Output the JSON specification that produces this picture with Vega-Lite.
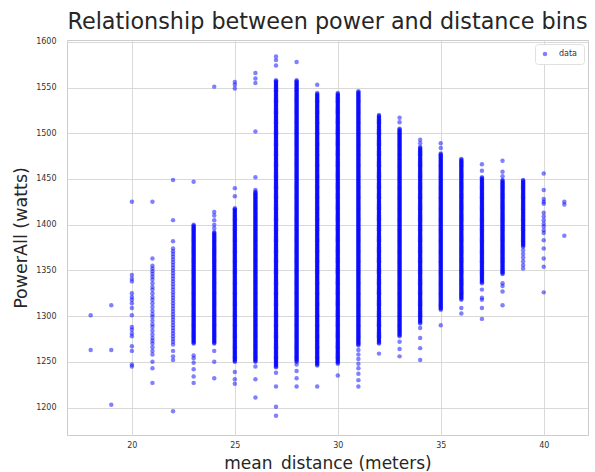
{
  "$schema": "https://vega.github.io/schema/vega-lite/v6.json",
  "width": 521,
  "height": 395,
  "autosize": "none",
  "padding": {"left": 67, "top": 40, "right": 7, "bottom": 37},
  "background": "white",
  "title": {"text": "Relationship between power and distance bins", "fontSize": 22.3, "font": "DejaVu Sans", "fontWeight": "normal", "color": "#262626", "anchor": "middle", "offset": 5},
  "config": {"view": {"stroke": "#cccccc", "strokeWidth": 1}},
  "data": {"values": [
    {"distance": 18, "power": [1301, 1263]},
    {"distance": 19, "power": [1312, 1263, 1203]},
    {"distance": 20, "power": [1425, 1345, 1341, 1338, 1325, 1321, 1318, 1314, 1309, 1301, 1288, 1285, 1281, 1278, 1267, 1262, 1247, 1245]},
    {"distance": 21, "power": [1425, 1363, 1355, 1352, 1349, 1346, 1343, 1340, 1336, 1332, 1329, 1325, 1321, 1318, 1314, 1310, 1306, 1302, 1299, 1295, 1291, 1288, 1284, 1280, 1276, 1273, 1270, 1266, 1262, 1258, 1250, 1243, 1227]},
    {"distance": 22, "power": [1449, 1405, 1382, 1374, 1371, 1368, 1365, 1362, 1359, 1356, 1353, 1350, 1347, 1344, 1341, 1338, 1335, 1332, 1329, 1326, 1323, 1320, 1317, 1314, 1311, 1308, 1305, 1302, 1299, 1296, 1293, 1290, 1287, 1284, 1281, 1278, 1275, 1272, 1269, 1262, 1256, 1252, 1196]},
    {"distance": 23, "power": [1447, 1257, 1254, 1249, 1242, 1234, 1227,
      1270,1271,1272,1273,1274,1275,1276,1277,1278,1279,1280,1281,1282,1283,1284,1285,1286,1287,1288,1289,1290,1291,1292,1293,1294,1295,1296,1297,1298,1299,1300,1301,1302,1303,1304,1305,1306,1307,1308,1309,1310,1311,1312,1313,1314,1315,1316,1317,1318,1319,1320,1321,1322,1323,1324,1325,1326,1327,1328,1329,1330,1331,1332,1333,1334,1335,1336,1337,1338,1339,1340,1341,1342,1343,1344,1345,1346,1347,1348,1349,1350,1351,1352,1353,1354,1355,1356,1357,1358,1359,1360,1361,1362,1363,1364,1365,1366,1367,1368,1369,1370,1371,1372,1373,1374,1375,1376,1377,1378,1379,1380,1381,1382,1383,1384,1385,1386,1387,1388,1389,1390,1391,1392,1393,1394,1395,1396,1397,1398,1399,1400]},
    {"distance": 24, "power": [1551, 1414, 1410, 1405, 1400, 1396, 1262, 1250, 1232,
      1270,1271,1272,1273,1274,1275,1276,1277,1278,1279,1280,1281,1282,1283,1284,1285,1286,1287,1288,1289,1290,1291,1292,1293,1294,1295,1296,1297,1298,1299,1300,1301,1302,1303,1304,1305,1306,1307,1308,1309,1310,1311,1312,1313,1314,1315,1316,1317,1318,1319,1320,1321,1322,1323,1324,1325,1326,1327,1328,1329,1330,1331,1332,1333,1334,1335,1336,1337,1338,1339,1340,1341,1342,1343,1344,1345,1346,1347,1348,1349,1350,1351,1352,1353,1354,1355,1356,1357,1358,1359,1360,1361,1362,1363,1364,1365,1366,1367,1368,1369,1370,1371,1372,1373,1374,1375,1376,1377,1378,1379,1380,1381,1382,1383,1384,1385,1386,1387,1388,1389,1390,1391,1392]},
    {"distance": 25, "power": [1556, 1553, 1549, 1440, 1431, 1239, 1231, 1226,
      1250,1251,1252,1253,1254,1255,1256,1257,1258,1259,1260,1261,1262,1263,1264,1265,1266,1267,1268,1269,1270,1271,1272,1273,1274,1275,1276,1277,1278,1279,1280,1281,1282,1283,1284,1285,1286,1287,1288,1289,1290,1291,1292,1293,1294,1295,1296,1297,1298,1299,1300,1301,1302,1303,1304,1305,1306,1307,1308,1309,1310,1311,1312,1313,1314,1315,1316,1317,1318,1319,1320,1321,1322,1323,1324,1325,1326,1327,1328,1329,1330,1331,1332,1333,1334,1335,1336,1337,1338,1339,1340,1341,1342,1343,1344,1345,1346,1347,1348,1349,1350,1351,1352,1353,1354,1355,1356,1357,1358,1359,1360,1361,1362,1363,1364,1365,1366,1367,1368,1369,1370,1371,1372,1373,1374,1375,1376,1377,1378,1379,1380,1381,1382,1383,1384,1385,1386,1387,1388,1389,1390,1391,1392,1393,1394,1395,1396,1397,1398,1399,1400,1401,1402,1403,1404,1405,1406,1407,1408,1409,1410,1411,1412,1413,1414,1415,1416,1417,1418]},
    {"distance": 26, "power": [1566, 1560, 1555, 1502, 1452, 1438, 1245, 1231, 1211,
      1250,1251,1252,1253,1254,1255,1256,1257,1258,1259,1260,1261,1262,1263,1264,1265,1266,1267,1268,1269,1270,1271,1272,1273,1274,1275,1276,1277,1278,1279,1280,1281,1282,1283,1284,1285,1286,1287,1288,1289,1290,1291,1292,1293,1294,1295,1296,1297,1298,1299,1300,1301,1302,1303,1304,1305,1306,1307,1308,1309,1310,1311,1312,1313,1314,1315,1316,1317,1318,1319,1320,1321,1322,1323,1324,1325,1326,1327,1328,1329,1330,1331,1332,1333,1334,1335,1336,1337,1338,1339,1340,1341,1342,1343,1344,1345,1346,1347,1348,1349,1350,1351,1352,1353,1354,1355,1356,1357,1358,1359,1360,1361,1362,1363,1364,1365,1366,1367,1368,1369,1370,1371,1372,1373,1374,1375,1376,1377,1378,1379,1380,1381,1382,1383,1384,1385,1386,1387,1388,1389,1390,1391,1392,1393,1394,1395,1396,1397,1398,1399,1400,1401,1402,1403,1404,1405,1406,1407,1408,1409,1410,1411,1412,1413,1414,1415,1416,1417,1418,1419,1420,1421,1422,1423,1424,1425,1426,1427,1428,1429,1430,1431,1432,1433,1434,1435,1436]},
    {"distance": 27, "power": [1584, 1580, 1574, 1238, 1223, 1201, 1191,
      1244,1245,1246,1247,1248,1249,1250,1251,1252,1253,1254,1255,1256,1257,1258,1259,1260,1261,1262,1263,1264,1265,1266,1267,1268,1269,1270,1271,1272,1273,1274,1275,1276,1277,1278,1279,1280,1281,1282,1283,1284,1285,1286,1287,1288,1289,1290,1291,1292,1293,1294,1295,1296,1297,1298,1299,1300,1301,1302,1303,1304,1305,1306,1307,1308,1309,1310,1311,1312,1313,1314,1315,1316,1317,1318,1319,1320,1321,1322,1323,1324,1325,1326,1327,1328,1329,1330,1331,1332,1333,1334,1335,1336,1337,1338,1339,1340,1341,1342,1343,1344,1345,1346,1347,1348,1349,1350,1351,1352,1353,1354,1355,1356,1357,1358,1359,1360,1361,1362,1363,1364,1365,1366,1367,1368,1369,1370,1371,1372,1373,1374,1375,1376,1377,1378,1379,1380,1381,1382,1383,1384,1385,1386,1387,1388,1389,1390,1391,1392,1393,1394,1395,1396,1397,1398,1399,1400,1401,1402,1403,1404,1405,1406,1407,1408,1409,1410,1411,1412,1413,1414,1415,1416,1417,1418,1419,1420,1421,1422,1423,1424,1425,1426,1427,1428,1429,1430,1431,1432,1433,1434,1435,1436,1437,1438,1439,1440,1441,1442,1443,1444,1445,1446,1447,1448,1449,1450,1451,1452,1453,1454,1455,1456,1457,1458,1459,1460,1461,1462,1463,1464,1465,1466,1467,1468,1469,1470,1471,1472,1473,1474,1475,1476,1477,1478,1479,1480,1481,1482,1483,1484,1485,1486,1487,1488,1489,1490,1491,1492,1493,1494,1495,1496,1497,1498,1499,1500,1501,1502,1503,1504,1505,1506,1507,1508,1509,1510,1511,1512,1513,1514,1515,1516,1517,1518,1519,1520,1521,1522,1523,1524,1525,1526,1527,1528,1529,1530,1531,1532,1533,1534,1535,1536,1537,1538,1539,1540,1541,1542,1543,1544,1545,1546,1547,1548,1549,1550,1551,1552,1553,1554,1555,1556,1557,1558]},
    {"distance": 28, "power": [1578, 1247, 1240, 1232, 1223,
      1250,1251,1252,1253,1254,1255,1256,1257,1258,1259,1260,1261,1262,1263,1264,1265,1266,1267,1268,1269,1270,1271,1272,1273,1274,1275,1276,1277,1278,1279,1280,1281,1282,1283,1284,1285,1286,1287,1288,1289,1290,1291,1292,1293,1294,1295,1296,1297,1298,1299,1300,1301,1302,1303,1304,1305,1306,1307,1308,1309,1310,1311,1312,1313,1314,1315,1316,1317,1318,1319,1320,1321,1322,1323,1324,1325,1326,1327,1328,1329,1330,1331,1332,1333,1334,1335,1336,1337,1338,1339,1340,1341,1342,1343,1344,1345,1346,1347,1348,1349,1350,1351,1352,1353,1354,1355,1356,1357,1358,1359,1360,1361,1362,1363,1364,1365,1366,1367,1368,1369,1370,1371,1372,1373,1374,1375,1376,1377,1378,1379,1380,1381,1382,1383,1384,1385,1386,1387,1388,1389,1390,1391,1392,1393,1394,1395,1396,1397,1398,1399,1400,1401,1402,1403,1404,1405,1406,1407,1408,1409,1410,1411,1412,1413,1414,1415,1416,1417,1418,1419,1420,1421,1422,1423,1424,1425,1426,1427,1428,1429,1430,1431,1432,1433,1434,1435,1436,1437,1438,1439,1440,1441,1442,1443,1444,1445,1446,1447,1448,1449,1450,1451,1452,1453,1454,1455,1456,1457,1458,1459,1460,1461,1462,1463,1464,1465,1466,1467,1468,1469,1470,1471,1472,1473,1474,1475,1476,1477,1478,1479,1480,1481,1482,1483,1484,1485,1486,1487,1488,1489,1490,1491,1492,1493,1494,1495,1496,1497,1498,1499,1500,1501,1502,1503,1504,1505,1506,1507,1508,1509,1510,1511,1512,1513,1514,1515,1516,1517,1518,1519,1520,1521,1522,1523,1524,1525,1526,1527,1528,1529,1530,1531,1532,1533,1534,1535,1536,1537,1538,1539,1540,1541,1542,1543,1544,1545,1546,1547,1548,1549,1550,1551,1552,1553,1554,1555,1556,1557,1558]},
    {"distance": 29, "power": [1553, 1223,
      1246,1247,1248,1249,1250,1251,1252,1253,1254,1255,1256,1257,1258,1259,1260,1261,1262,1263,1264,1265,1266,1267,1268,1269,1270,1271,1272,1273,1274,1275,1276,1277,1278,1279,1280,1281,1282,1283,1284,1285,1286,1287,1288,1289,1290,1291,1292,1293,1294,1295,1296,1297,1298,1299,1300,1301,1302,1303,1304,1305,1306,1307,1308,1309,1310,1311,1312,1313,1314,1315,1316,1317,1318,1319,1320,1321,1322,1323,1324,1325,1326,1327,1328,1329,1330,1331,1332,1333,1334,1335,1336,1337,1338,1339,1340,1341,1342,1343,1344,1345,1346,1347,1348,1349,1350,1351,1352,1353,1354,1355,1356,1357,1358,1359,1360,1361,1362,1363,1364,1365,1366,1367,1368,1369,1370,1371,1372,1373,1374,1375,1376,1377,1378,1379,1380,1381,1382,1383,1384,1385,1386,1387,1388,1389,1390,1391,1392,1393,1394,1395,1396,1397,1398,1399,1400,1401,1402,1403,1404,1405,1406,1407,1408,1409,1410,1411,1412,1413,1414,1415,1416,1417,1418,1419,1420,1421,1422,1423,1424,1425,1426,1427,1428,1429,1430,1431,1432,1433,1434,1435,1436,1437,1438,1439,1440,1441,1442,1443,1444,1445,1446,1447,1448,1449,1450,1451,1452,1453,1454,1455,1456,1457,1458,1459,1460,1461,1462,1463,1464,1465,1466,1467,1468,1469,1470,1471,1472,1473,1474,1475,1476,1477,1478,1479,1480,1481,1482,1483,1484,1485,1486,1487,1488,1489,1490,1491,1492,1493,1494,1495,1496,1497,1498,1499,1500,1501,1502,1503,1504,1505,1506,1507,1508,1509,1510,1511,1512,1513,1514,1515,1516,1517,1518,1519,1520,1521,1522,1523,1524,1525,1526,1527,1528,1529,1530,1531,1532,1533,1534,1535,1536,1537,1538,1539,1540,1541,1542,1543,1544]},
    {"distance": 30, "power": [1235,
      1248,1249,1250,1251,1252,1253,1254,1255,1256,1257,1258,1259,1260,1261,1262,1263,1264,1265,1266,1267,1268,1269,1270,1271,1272,1273,1274,1275,1276,1277,1278,1279,1280,1281,1282,1283,1284,1285,1286,1287,1288,1289,1290,1291,1292,1293,1294,1295,1296,1297,1298,1299,1300,1301,1302,1303,1304,1305,1306,1307,1308,1309,1310,1311,1312,1313,1314,1315,1316,1317,1318,1319,1320,1321,1322,1323,1324,1325,1326,1327,1328,1329,1330,1331,1332,1333,1334,1335,1336,1337,1338,1339,1340,1341,1342,1343,1344,1345,1346,1347,1348,1349,1350,1351,1352,1353,1354,1355,1356,1357,1358,1359,1360,1361,1362,1363,1364,1365,1366,1367,1368,1369,1370,1371,1372,1373,1374,1375,1376,1377,1378,1379,1380,1381,1382,1383,1384,1385,1386,1387,1388,1389,1390,1391,1392,1393,1394,1395,1396,1397,1398,1399,1400,1401,1402,1403,1404,1405,1406,1407,1408,1409,1410,1411,1412,1413,1414,1415,1416,1417,1418,1419,1420,1421,1422,1423,1424,1425,1426,1427,1428,1429,1430,1431,1432,1433,1434,1435,1436,1437,1438,1439,1440,1441,1442,1443,1444,1445,1446,1447,1448,1449,1450,1451,1452,1453,1454,1455,1456,1457,1458,1459,1460,1461,1462,1463,1464,1465,1466,1467,1468,1469,1470,1471,1472,1473,1474,1475,1476,1477,1478,1479,1480,1481,1482,1483,1484,1485,1486,1487,1488,1489,1490,1491,1492,1493,1494,1495,1496,1497,1498,1499,1500,1501,1502,1503,1504,1505,1506,1507,1508,1509,1510,1511,1512,1513,1514,1515,1516,1517,1518,1519,1520,1521,1522,1523,1524,1525,1526,1527,1528,1529,1530,1531,1532,1533,1534,1535,1536,1537,1538,1539,1540,1541,1542,1543,1544]},
    {"distance": 31, "power": [1263, 1258, 1253, 1248, 1243, 1237, 1230, 1223,
      1268,1269,1270,1271,1272,1273,1274,1275,1276,1277,1278,1279,1280,1281,1282,1283,1284,1285,1286,1287,1288,1289,1290,1291,1292,1293,1294,1295,1296,1297,1298,1299,1300,1301,1302,1303,1304,1305,1306,1307,1308,1309,1310,1311,1312,1313,1314,1315,1316,1317,1318,1319,1320,1321,1322,1323,1324,1325,1326,1327,1328,1329,1330,1331,1332,1333,1334,1335,1336,1337,1338,1339,1340,1341,1342,1343,1344,1345,1346,1347,1348,1349,1350,1351,1352,1353,1354,1355,1356,1357,1358,1359,1360,1361,1362,1363,1364,1365,1366,1367,1368,1369,1370,1371,1372,1373,1374,1375,1376,1377,1378,1379,1380,1381,1382,1383,1384,1385,1386,1387,1388,1389,1390,1391,1392,1393,1394,1395,1396,1397,1398,1399,1400,1401,1402,1403,1404,1405,1406,1407,1408,1409,1410,1411,1412,1413,1414,1415,1416,1417,1418,1419,1420,1421,1422,1423,1424,1425,1426,1427,1428,1429,1430,1431,1432,1433,1434,1435,1436,1437,1438,1439,1440,1441,1442,1443,1444,1445,1446,1447,1448,1449,1450,1451,1452,1453,1454,1455,1456,1457,1458,1459,1460,1461,1462,1463,1464,1465,1466,1467,1468,1469,1470,1471,1472,1473,1474,1475,1476,1477,1478,1479,1480,1481,1482,1483,1484,1485,1486,1487,1488,1489,1490,1491,1492,1493,1494,1495,1496,1497,1498,1499,1500,1501,1502,1503,1504,1505,1506,1507,1508,1509,1510,1511,1512,1513,1514,1515,1516,1517,1518,1519,1520,1521,1522,1523,1524,1525,1526,1527,1528,1529,1530,1531,1532,1533,1534,1535,1536,1537,1538,1539,1540,1541,1542,1543,1544,1545,1546]},
    {"distance": 32, "power": [1259,
      1270,1271,1272,1273,1274,1275,1276,1277,1278,1279,1280,1281,1282,1283,1284,1285,1286,1287,1288,1289,1290,1291,1292,1293,1294,1295,1296,1297,1298,1299,1300,1301,1302,1303,1304,1305,1306,1307,1308,1309,1310,1311,1312,1313,1314,1315,1316,1317,1318,1319,1320,1321,1322,1323,1324,1325,1326,1327,1328,1329,1330,1331,1332,1333,1334,1335,1336,1337,1338,1339,1340,1341,1342,1343,1344,1345,1346,1347,1348,1349,1350,1351,1352,1353,1354,1355,1356,1357,1358,1359,1360,1361,1362,1363,1364,1365,1366,1367,1368,1369,1370,1371,1372,1373,1374,1375,1376,1377,1378,1379,1380,1381,1382,1383,1384,1385,1386,1387,1388,1389,1390,1391,1392,1393,1394,1395,1396,1397,1398,1399,1400,1401,1402,1403,1404,1405,1406,1407,1408,1409,1410,1411,1412,1413,1414,1415,1416,1417,1418,1419,1420,1421,1422,1423,1424,1425,1426,1427,1428,1429,1430,1431,1432,1433,1434,1435,1436,1437,1438,1439,1440,1441,1442,1443,1444,1445,1446,1447,1448,1449,1450,1451,1452,1453,1454,1455,1456,1457,1458,1459,1460,1461,1462,1463,1464,1465,1466,1467,1468,1469,1470,1471,1472,1473,1474,1475,1476,1477,1478,1479,1480,1481,1482,1483,1484,1485,1486,1487,1488,1489,1490,1491,1492,1493,1494,1495,1496,1497,1498,1499,1500,1501,1502,1503,1504,1505,1506,1507,1508,1509,1510,1511,1512,1513,1514,1515,1516,1517,1518,1519,1520]},
    {"distance": 33, "power": [1517, 1512, 1272, 1264, 1256,
      1278,1279,1280,1281,1282,1283,1284,1285,1286,1287,1288,1289,1290,1291,1292,1293,1294,1295,1296,1297,1298,1299,1300,1301,1302,1303,1304,1305,1306,1307,1308,1309,1310,1311,1312,1313,1314,1315,1316,1317,1318,1319,1320,1321,1322,1323,1324,1325,1326,1327,1328,1329,1330,1331,1332,1333,1334,1335,1336,1337,1338,1339,1340,1341,1342,1343,1344,1345,1346,1347,1348,1349,1350,1351,1352,1353,1354,1355,1356,1357,1358,1359,1360,1361,1362,1363,1364,1365,1366,1367,1368,1369,1370,1371,1372,1373,1374,1375,1376,1377,1378,1379,1380,1381,1382,1383,1384,1385,1386,1387,1388,1389,1390,1391,1392,1393,1394,1395,1396,1397,1398,1399,1400,1401,1402,1403,1404,1405,1406,1407,1408,1409,1410,1411,1412,1413,1414,1415,1416,1417,1418,1419,1420,1421,1422,1423,1424,1425,1426,1427,1428,1429,1430,1431,1432,1433,1434,1435,1436,1437,1438,1439,1440,1441,1442,1443,1444,1445,1446,1447,1448,1449,1450,1451,1452,1453,1454,1455,1456,1457,1458,1459,1460,1461,1462,1463,1464,1465,1466,1467,1468,1469,1470,1471,1472,1473,1474,1475,1476,1477,1478,1479,1480,1481,1482,1483,1484,1485,1486,1487,1488,1489,1490,1491,1492,1493,1494,1495,1496,1497,1498,1499,1500,1501,1502,1503,1504,1505]},
    {"distance": 34, "power": [1493, 1489, 1287, 1276, 1265, 1252,
      1292,1293,1294,1295,1296,1297,1298,1299,1300,1301,1302,1303,1304,1305,1306,1307,1308,1309,1310,1311,1312,1313,1314,1315,1316,1317,1318,1319,1320,1321,1322,1323,1324,1325,1326,1327,1328,1329,1330,1331,1332,1333,1334,1335,1336,1337,1338,1339,1340,1341,1342,1343,1344,1345,1346,1347,1348,1349,1350,1351,1352,1353,1354,1355,1356,1357,1358,1359,1360,1361,1362,1363,1364,1365,1366,1367,1368,1369,1370,1371,1372,1373,1374,1375,1376,1377,1378,1379,1380,1381,1382,1383,1384,1385,1386,1387,1388,1389,1390,1391,1392,1393,1394,1395,1396,1397,1398,1399,1400,1401,1402,1403,1404,1405,1406,1407,1408,1409,1410,1411,1412,1413,1414,1415,1416,1417,1418,1419,1420,1421,1422,1423,1424,1425,1426,1427,1428,1429,1430,1431,1432,1433,1434,1435,1436,1437,1438,1439,1440,1441,1442,1443,1444,1445,1446,1447,1448,1449,1450,1451,1452,1453,1454,1455,1456,1457,1458,1459,1460,1461,1462,1463,1464,1465,1466,1467,1468,1469,1470,1471,1472,1473,1474,1475,1476,1477,1478,1479,1480,1481,1482,1483,1484,1485]},
    {"distance": 35, "power": [1489, 1484, 1290,
      1307,1308,1309,1310,1311,1312,1313,1314,1315,1316,1317,1318,1319,1320,1321,1322,1323,1324,1325,1326,1327,1328,1329,1330,1331,1332,1333,1334,1335,1336,1337,1338,1339,1340,1341,1342,1343,1344,1345,1346,1347,1348,1349,1350,1351,1352,1353,1354,1355,1356,1357,1358,1359,1360,1361,1362,1363,1364,1365,1366,1367,1368,1369,1370,1371,1372,1373,1374,1375,1376,1377,1378,1379,1380,1381,1382,1383,1384,1385,1386,1387,1388,1389,1390,1391,1392,1393,1394,1395,1396,1397,1398,1399,1400,1401,1402,1403,1404,1405,1406,1407,1408,1409,1410,1411,1412,1413,1414,1415,1416,1417,1418,1419,1420,1421,1422,1423,1424,1425,1426,1427,1428,1429,1430,1431,1432,1433,1434,1435,1436,1437,1438,1439,1440,1441,1442,1443,1444,1445,1446,1447,1448,1449,1450,1451,1452,1453,1454,1455,1456,1457,1458,1459,1460,1461,1462,1463,1464,1465,1466,1467,1468,1469,1470,1471,1472,1473,1474,1475,1476,1477,1478]},
    {"distance": 36, "power": [1309, 1303,
      1318,1319,1320,1321,1322,1323,1324,1325,1326,1327,1328,1329,1330,1331,1332,1333,1334,1335,1336,1337,1338,1339,1340,1341,1342,1343,1344,1345,1346,1347,1348,1349,1350,1351,1352,1353,1354,1355,1356,1357,1358,1359,1360,1361,1362,1363,1364,1365,1366,1367,1368,1369,1370,1371,1372,1373,1374,1375,1376,1377,1378,1379,1380,1381,1382,1383,1384,1385,1386,1387,1388,1389,1390,1391,1392,1393,1394,1395,1396,1397,1398,1399,1400,1401,1402,1403,1404,1405,1406,1407,1408,1409,1410,1411,1412,1413,1414,1415,1416,1417,1418,1419,1420,1421,1422,1423,1424,1425,1426,1427,1428,1429,1430,1431,1432,1433,1434,1435,1436,1437,1438,1439,1440,1441,1442,1443,1444,1445,1446,1447,1448,1449,1450,1451,1452,1453,1454,1455,1456,1457,1458,1459,1460,1461,1462,1463,1464,1465,1466,1467,1468,1469,1470,1471,1472]},
    {"distance": 37, "power": [1466, 1459, 1329, 1320, 1318, 1309, 1297,
      1336,1337,1338,1339,1340,1341,1342,1343,1344,1345,1346,1347,1348,1349,1350,1351,1352,1353,1354,1355,1356,1357,1358,1359,1360,1361,1362,1363,1364,1365,1366,1367,1368,1369,1370,1371,1372,1373,1374,1375,1376,1377,1378,1379,1380,1381,1382,1383,1384,1385,1386,1387,1388,1389,1390,1391,1392,1393,1394,1395,1396,1397,1398,1399,1400,1401,1402,1403,1404,1405,1406,1407,1408,1409,1410,1411,1412,1413,1414,1415,1416,1417,1418,1419,1420,1421,1422,1423,1424,1425,1426,1427,1428,1429,1430,1431,1432,1433,1434,1435,1436,1437,1438,1439,1440,1441,1442,1443,1444,1445,1446,1447,1448,1449,1450,1451,1452]},
    {"distance": 38, "power": [1470, 1458, 1453, 1336, 1333, 1327, 1312,
      1346,1347,1348,1349,1350,1351,1352,1353,1354,1355,1356,1357,1358,1359,1360,1361,1362,1363,1364,1365,1366,1367,1368,1369,1370,1371,1372,1373,1374,1375,1376,1377,1378,1379,1380,1381,1382,1383,1384,1385,1386,1387,1388,1389,1390,1391,1392,1393,1394,1395,1396,1397,1398,1399,1400,1401,1402,1403,1404,1405,1406,1407,1408,1409,1410,1411,1412,1413,1414,1415,1416,1417,1418,1419,1420,1421,1422,1423,1424,1425,1426,1427,1428,1429,1430,1431,1432,1433,1434,1435,1436,1437,1438,1439,1440,1441,1442,1443,1444,1445,1446,1447,1448,1449]},
    {"distance": 39, "power": [1372, 1368, 1364, 1360, 1356, 1352,
      1376,1377,1378,1379,1380,1381,1382,1383,1384,1385,1386,1387,1388,1389,1390,1391,1392,1393,1394,1395,1396,1397,1398,1399,1400,1401,1402,1403,1404,1405,1406,1407,1408,1409,1410,1411,1412,1413,1414,1415,1416,1417,1418,1419,1420,1421,1422,1423,1424,1425,1426,1427,1428,1429,1430,1431,1432,1433,1434,1435,1436,1437,1438,1439,1440,1441,1442,1443,1444,1445,1446,1447,1448,1449]},
    {"distance": 40, "power": [1456, 1438, 1428, 1425, 1423, 1413, 1409, 1405, 1401, 1398, 1394, 1391, 1383, 1374, 1363, 1354, 1326]},
    {"distance": 41, "power": [1425, 1422, 1388]}
  ]},
  "transform": [{"flatten": ["power"]}],
  "mark": {"type": "point", "filled": true, "size": 20, "opacity": 0.5, "strokeWidth": 0},
  "encoding": {
    "x": {"field": "distance", "type": "quantitative",
      "scale": {"domain": [16.85, 42.15], "nice": false, "zero": false},
      "axis": {"values": [20, 25, 30, 35, 40], "format": "d", "grid": true, "gridColor": "#d9d9d9", "gridWidth": 1, "domain": false, "ticks": false,
        "labelFont": "DejaVu Sans", "labelFontSize": 8, "labelColor": "#333333", "labelPadding": 6,
        "title": "mean_distance (meters)", "titleFont": "DejaVu Sans", "titleFontSize": 17, "titleFontWeight": "normal", "titleColor": "#262626", "titlePadding": 6}},
    "y": {"field": "power", "type": "quantitative",
      "scale": {"domain": [1170, 1602], "nice": false, "zero": false},
      "axis": {"values": [1200, 1250, 1300, 1350, 1400, 1450, 1500, 1550, 1600], "format": "d", "grid": true, "gridColor": "#d9d9d9", "gridWidth": 1, "domain": false, "ticks": false,
        "labelFont": "DejaVu Sans", "labelFontSize": 8, "labelColor": "#333333", "labelPadding": 11,
        "title": "PowerAll (watts)", "titleFont": "DejaVu Sans", "titleFontSize": 17.5, "titleFontWeight": "normal", "titleColor": "#262626", "titlePadding": 5}},
    "color": {"datum": "data", "type": "nominal", "scale": {"range": ["#0000ff"]},
      "legend": {"orient": "top-right", "offset": 4, "title": null, "fillColor": "white", "strokeColor": "#e0e0e0", "cornerRadius": 3, "padding": 6,
        "symbolType": "circle", "symbolSize": 20, "symbolOpacity": 0.5, "symbolStrokeWidth": 0, "labelFont": "DejaVu Sans", "labelFontSize": 8, "labelColor": "#333333", "labelOffset": 10}}
  }
}
